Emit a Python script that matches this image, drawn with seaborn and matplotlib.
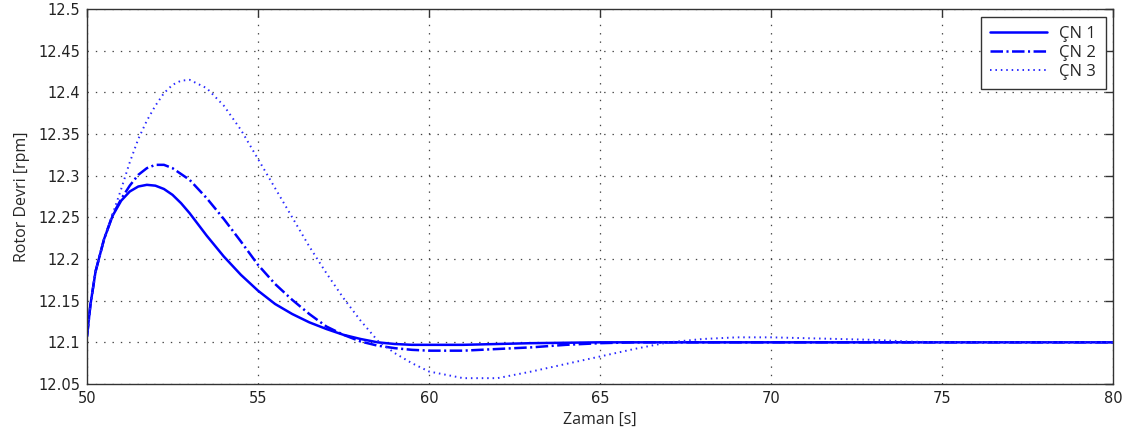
import numpy as np
import pandas as pd
import matplotlib
matplotlib.use("Agg")
import matplotlib.pyplot as plt
import seaborn as sns

# ---- data ----
time = [50, 50.1, 50.25, 50.5, 50.75, 51, 51.25, 51.5, 51.75, 52, 52.25, 52.5, 52.75,
        53, 53.5, 54, 54.5, 55, 55.5, 56, 56.5, 57, 57.5, 58, 58.5, 59, 59.5,
        60, 61, 62, 63, 64, 65, 66, 67, 68, 69, 70, 71, 72, 73, 74, 75, 76, 78, 80]

cn1 = [12.107, 12.145, 12.185, 12.224, 12.252, 12.270, 12.281, 12.287, 12.289, 12.288, 12.284, 12.277, 12.267,
       12.255, 12.228, 12.203, 12.181, 12.162, 12.146, 12.134, 12.124, 12.116, 12.109, 12.104, 12.100, 12.098, 12.097,
       12.097, 12.097, 12.098, 12.099, 12.0995, 12.100, 12.100, 12.100, 12.100, 12.100, 12.100, 12.100, 12.100, 12.100, 12.100, 12.100, 12.100, 12.100, 12.100]

cn2 = [12.107, 12.145, 12.185, 12.224, 12.253, 12.272, 12.288, 12.301, 12.309, 12.313, 12.313, 12.309, 12.302,
       12.295, 12.273, 12.248, 12.221, 12.193, 12.170, 12.151, 12.134, 12.119, 12.109, 12.101, 12.096, 12.093, 12.091,
       12.090, 12.090, 12.092, 12.094, 12.097, 12.099, 12.100, 12.100, 12.100, 12.100, 12.100, 12.100, 12.100, 12.100, 12.100, 12.100, 12.100, 12.100, 12.100]

cn3 = [12.107, 12.145, 12.185, 12.224, 12.254, 12.284, 12.316, 12.344, 12.366, 12.384, 12.399, 12.409, 12.414,
       12.415, 12.405, 12.384, 12.355, 12.320, 12.285, 12.250, 12.215, 12.183, 12.153, 12.126, 12.102, 12.087, 12.075,
       12.065, 12.057, 12.057, 12.065, 12.074, 12.083, 12.092, 12.100, 12.104, 12.106, 12.106, 12.105, 12.104, 12.103, 12.101, 12.100, 12.100, 12.100, 12.100]

labels = ["ÇN 1", "ÇN 2", "ÇN 3"]
xticks = [50, 55, 60, 65, 70, 75, 80]
yticks = [12.05, 12.1, 12.15, 12.2, 12.25, 12.3, 12.35, 12.4, 12.45, 12.5]
yticklabels = ["12.05", "12.1", "12.15", "12.2", "12.25", "12.3", "12.35", "12.4", "12.45", "12.5"]

sns.set_style("white")
plt.rcParams["font.family"] = ["DejaVu Sans"]
plt.rcParams["lines.scale_dashes"] = False

fig = plt.figure(figsize=(11.26, 4.34), dpi=100)
ax = fig.add_axes([87 / 1126, 1 - 384 / 434, (1113 - 87) / 1126, 375 / 434])

styles = [
    dict(linestyle="-", linewidth=1.8, color="#0000ff"),
    dict(linestyle=(0, (9, 2.5, 1.5, 2.5)), linewidth=1.8, color="#0000ff"),
    dict(linestyle=(0, (1.1, 2.8)), linewidth=1.4, color="#2a2aff"),
]
for series, lab, st in zip([cn1, cn2, cn3], labels, styles):
    sns.lineplot(x=time, y=series, ax=ax, label=lab, sort=False, **st)

ax.set_xlim(50, 80)
ax.set_ylim(12.05, 12.5)
ax.set_xticks(xticks)
ax.set_xticklabels([str(t) for t in xticks])
ax.set_yticks(yticks)
ax.set_yticklabels(yticklabels)

ax.grid(True, color="#444444", linestyle=(0, (1, 5)), linewidth=0.9)
for s in ax.spines.values():
    s.set_color("#333333")
    s.set_linewidth(1.0)
    s.set_visible(True)
ax.tick_params(direction="in", length=6, width=1, colors="#333333",
               top=True, right=True, labelsize=10.5, labelcolor="#222222", pad=5)

ax.set_xlabel("Zaman [s]", fontsize=11.5, family=["Open Sans", "DejaVu Sans"], labelpad=4)
ax.set_ylabel("Rotor Devri [rpm]", fontsize=11.5, family=["Open Sans", "DejaVu Sans"], labelpad=6)

leg = ax.legend(loc="upper right", fancybox=False, frameon=True, framealpha=1,
                edgecolor="#333333", handlelength=3.4, handletextpad=0.75,
                borderaxespad=0.45, borderpad=0.55, labelspacing=0.18,
                prop={"family": ["Open Sans", "DejaVu Sans"], "size": 12})
leg.get_frame().set_linewidth(1.0)

fig.savefig("out.png", dpi=100)
